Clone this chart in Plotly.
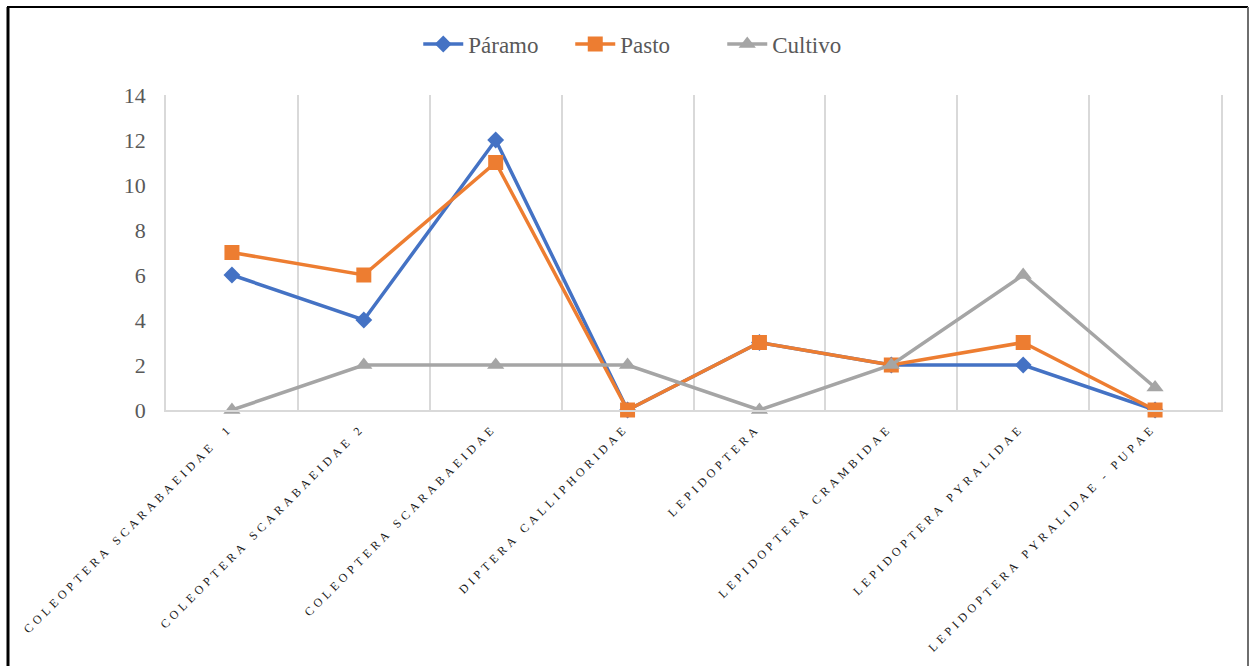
import plotly.graph_objects as go

# Insect groups (x categories) and counts per land use
categories = [
    "COLEOPTERA SCARABAEIDAE  1",
    "COLEOPTERA SCARABAEIDAE 2",
    "COLEOPTERA SCARABAEIDAE",
    "DIPTERA CALLIPHORIDAE",
    "LEPIDOPTERA",
    "LEPIDOPTERA CRAMBIDAE",
    "LEPIDOPTERA PYRALIDAE",
    "LEPIDOPTERA PYRALIDAE - PUPAE",
]
paramo = [6, 4, 12, 0, 3, 2, 2, 0]
pasto = [7, 6, 11, 0, 3, 2, 3, 0]
cultivo = [0, 2, 2, 2, 0, 2, 6, 1]
y_ticks = [0, 2, 4, 6, 8, 10, 12, 14]

SERIF = "Liberation Serif"
GREY_TEXT = "#595959"
GRID = "#D9D9D9"


def spaced(label):
    """Letter-spaced tick text (wide tracking) using three-per-em spaces."""
    return "\u2004".join(label) + "\u2004\u2004"


tick_text = [spaced(c) for c in categories]

W, H = 1250, 666
L, R, T, B = 166, 29, 95, 256
PW, PH = W - L - R, H - T - B


def px(x):
    return (x - L) / PW


def py(y):
    return (H - B - y) / PH


fig = go.Figure()
series = [
    ("Páramo", paramo, "#4472C4", "diamond", 13),
    ("Pasto", pasto, "#ED7D31", "square", 15),
    ("Cultivo", cultivo, "#A5A5A5", "triangle-up", 15),
]
for name, vals, color, symbol, size in series:
    fig.add_trace(go.Scatter(
        x=tick_text, y=vals, name=name, mode="lines+markers",
        line=dict(color=color, width=3.5),
        marker=dict(symbol=symbol, size=size, color=color, line=dict(width=0)),
        cliponaxis=False,
    ))

# Outer chart frame
frame = [
    dict(x0=px(8), x1=px(8), y0=py(7), y1=py(H + 5), color="black", width=3),
    dict(x0=px(7), x1=px(1248), y0=py(7), y1=py(7), color="black", width=2),
    dict(x0=px(1248), x1=px(1248), y0=py(7), y1=py(H + 5), color="#6E6E6E", width=2),
]
for f in frame:
    fig.add_shape(type="line", xref="paper", yref="paper",
                  x0=f["x0"], x1=f["x1"], y0=f["y0"], y1=f["y1"],
                  line=dict(color=f["color"], width=f["width"]))

fig.update_layout(
    width=W, height=H,
    margin=dict(l=L, r=R, t=T, b=B),
    paper_bgcolor="white", plot_bgcolor="white",
    font=dict(family=SERIF, color=GREY_TEXT),
    showlegend=True,
    legend=dict(
        orientation="h", xref="container", yref="container",
        x=0.517, xanchor="center", y=1 - 44 / H, yanchor="middle",
        font=dict(family=SERIF, size=23, color=GREY_TEXT),
        entrywidth=97, entrywidthmode="pixels",
        itemwidth=40, tracegroupgap=0,
    ),
    xaxis=dict(
        type="category", tickson="boundaries", showgrid=True, gridcolor=GRID,
        gridwidth=1.5, showline=True, linecolor=GRID, linewidth=1.5,
        ticks="", tickangle=-45, ticklabelstandoff=2,
        tickfont=dict(family=SERIF, size=12, color="#1a1a1a"),
        range=[-0.5, 7.5], fixedrange=True,
    ),
    yaxis=dict(
        range=[0, 14], tickvals=y_ticks, showgrid=False, zeroline=False,
        showline=True, linecolor=GRID, linewidth=1.5, mirror=True,
        ticks="", ticklabelstandoff=14,
        tickfont=dict(family=SERIF, size=22, color=GREY_TEXT),
    ),
)

fig.write_html("out.html")
